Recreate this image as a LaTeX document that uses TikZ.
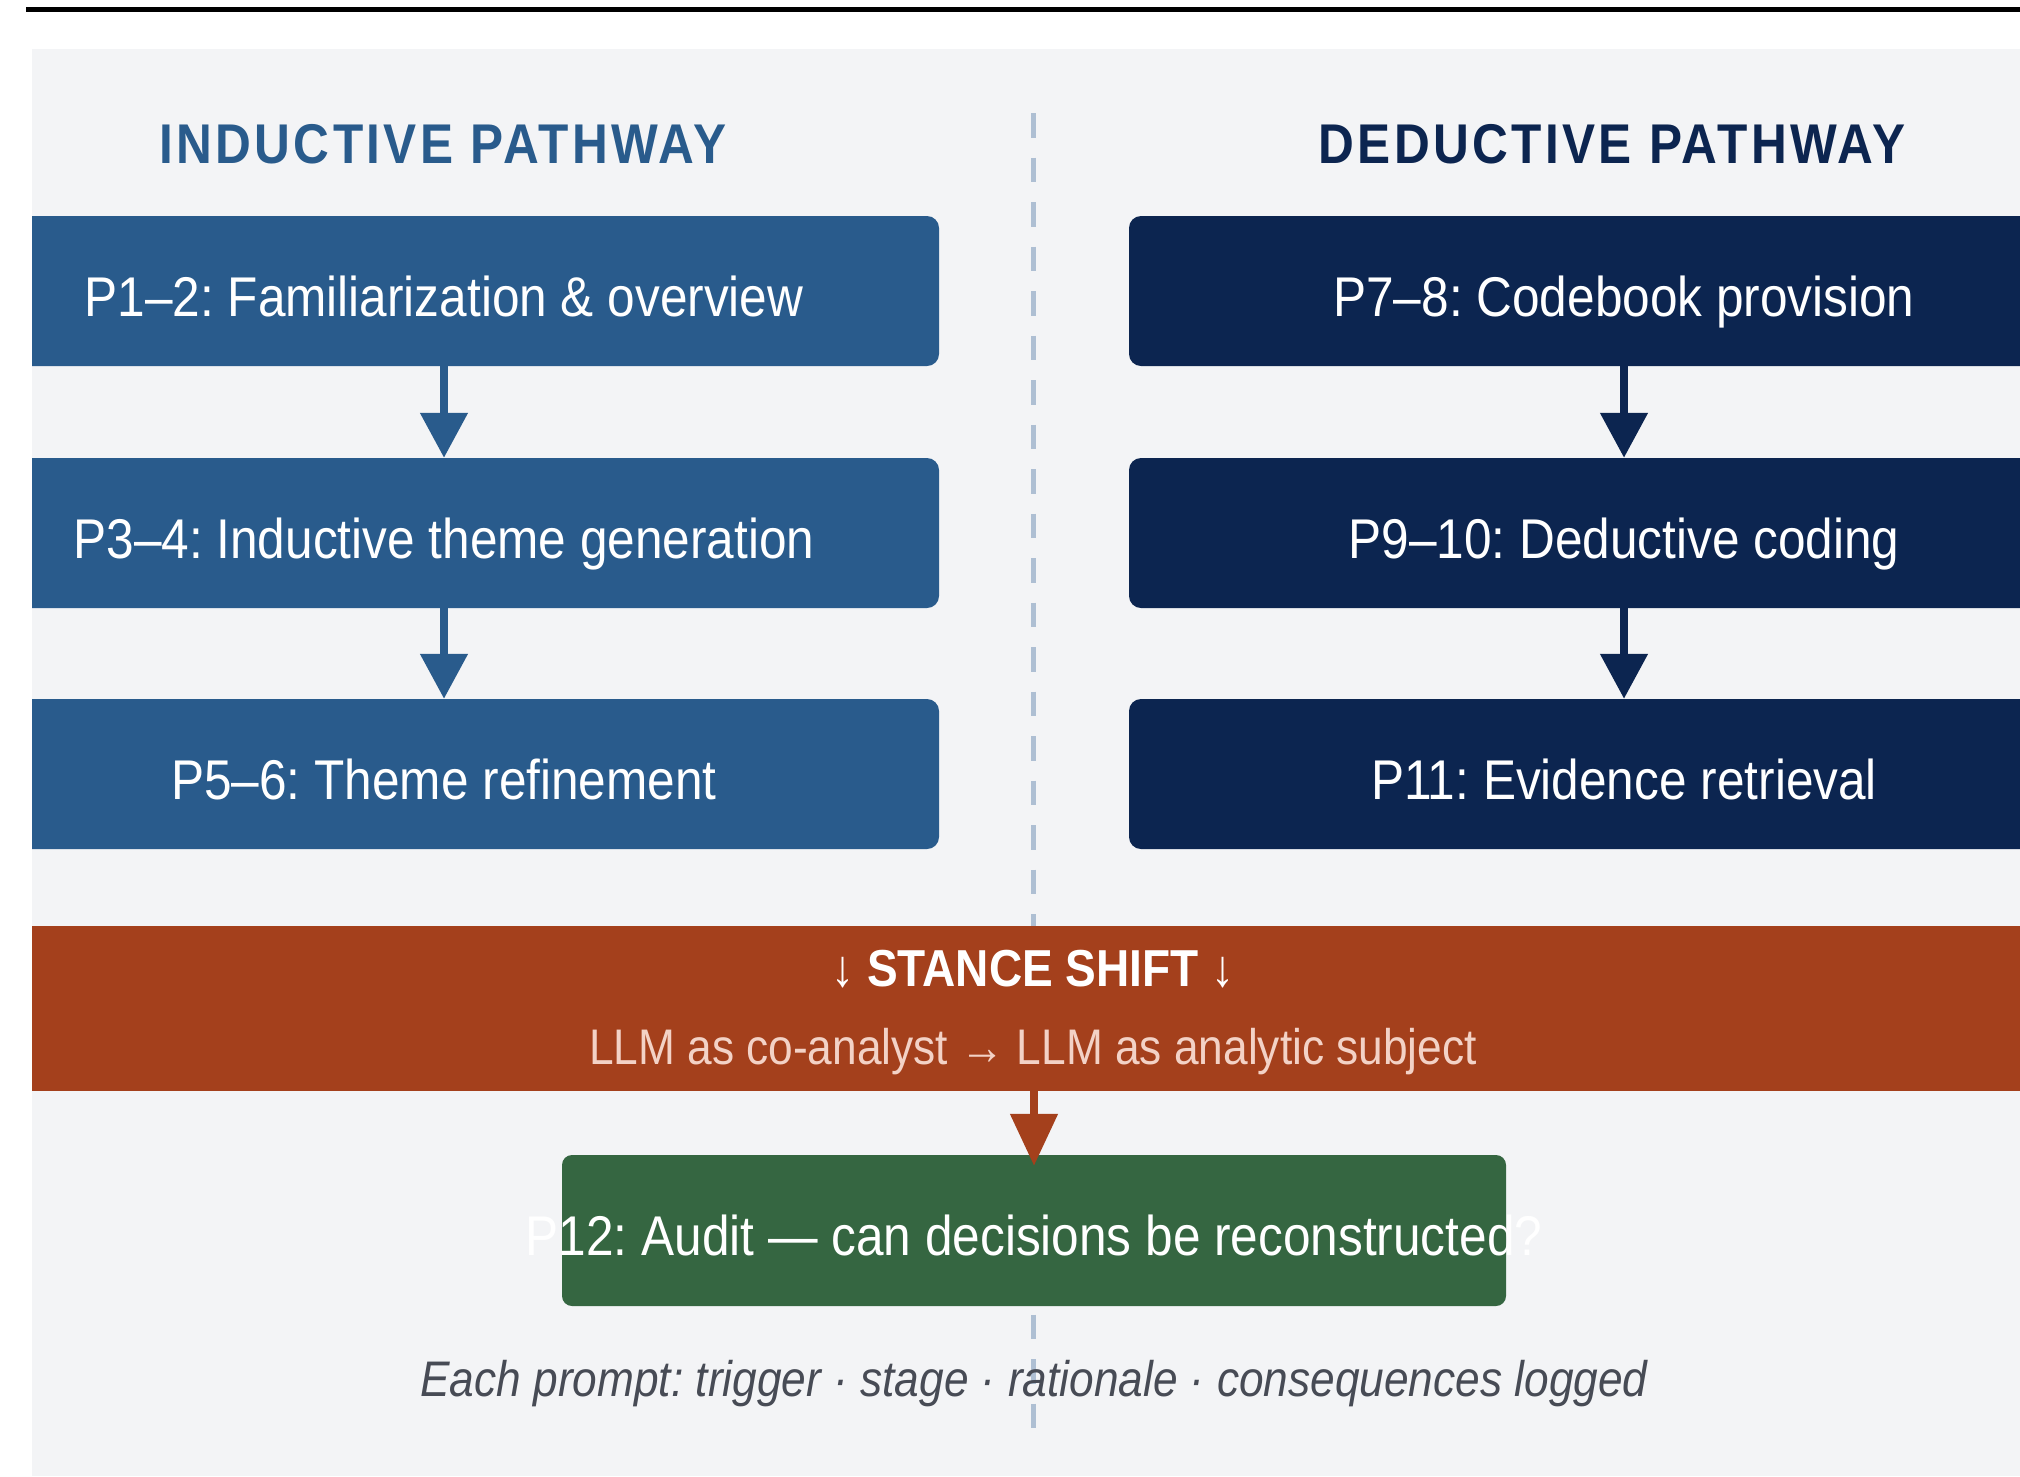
\documentclass[tikz,border=0pt]{standalone}
\usepackage{fontspec}
\setmainfont{Liberation Sans}[FakeStretch=0.885]
\usetikzlibrary{arrows.meta}

\definecolor{panelbg}{HTML}{F3F4F6}
\definecolor{indblue}{HTML}{295B8C}
\definecolor{dednavy}{HTML}{0C2550}
\definecolor{shiftrust}{HTML}{A4401C}
\definecolor{auditgreen}{HTML}{356641}
\definecolor{divider}{HTML}{AEBFD3}
\definecolor{subpink}{HTML}{F3D2C6}
\definecolor{notegray}{HTML}{474B55}

\tikzset{
  phasebox/.style={rectangle, rounded corners=12pt, minimum width=990pt,
    minimum height=150pt, inner sep=0pt, text=white,
    text height=50pt, text depth=0pt,
    font=\fontsize{56}{60}\selectfont},
  indbox/.style={phasebox, fill=indblue},
  dedbox/.style={phasebox, fill=dednavy},
  heading/.style={font=\fontsize{56}{60}\selectfont\bfseries\addfontfeature{LetterSpace=6}},
  flow/.style={line width=8pt, -{Triangle[width=46pt,length=45pt]}},
}

\begin{document}
\frenchspacing
\begin{tikzpicture}[x=1pt,y=-1pt]
\useasboundingbox (0,0) rectangle (2020,1476);
\fill[white] (0,0) rectangle (2020,1476);

% top rule
\draw[line width=5pt] (26,9) -- (2020,9);

\begin{scope}
\clip (32,49) rectangle (2020,1476);
\fill[panelbg] (32,49) rectangle (2020,1476);

% centre divider
\coordinate (divtop) at (1033,113);
\coordinate (divbot) at (1033,1428);
\draw[divider, line width=5pt, dash pattern=on 24.5pt off 20pt] (divtop) -- (divbot);

% headings
\node[heading, text=indblue] (indhead) at (443,144) {INDUCTIVE PATHWAY};
\node[heading, text=dednavy] (dedhead) at (1612,144) {DEDUCTIVE PATHWAY};

% inductive pathway
\node[indbox] (p12) at (444,291) {P1–2: Familiarization \& overview};
\node[indbox] (p34) at (444,533) {P3–4: Inductive theme generation};
\node[indbox] (p56) at (444,774) {P5–6: Theme refinement};
\draw[flow, indblue] (p12.south) -- (p34.north);
\draw[flow, indblue] (p34.south) -- (p56.north);

% deductive pathway
\node[dedbox] (p78) at (1624,291) {P7–8: Codebook provision};
\node[dedbox] (p910) at (1624,533) {P9–10: Deductive coding};
\node[dedbox] (p11) at (1624,774) {P11: Evidence retrieval};
\draw[flow, dednavy] (p78.south) -- (p910.north);
\draw[flow, dednavy] (p910.south) -- (p11.north);

% stance shift band
\node[rectangle, fill=shiftrust, minimum width=1988pt, minimum height=165pt,
  inner sep=0pt] (shift) at (1026,1008.5) {};
\node[text=white, font=\fontsize{52}{56}\selectfont\bfseries] (shifttitle)
  at (1033,969) {↓ STANCE SHIFT ↓};
\node[text=subpink, font=\fontsize{50}{54}\selectfont] (shiftsub)
  at (1033,1052) {LLM as co-analyst → LLM as analytic subject};

% audit
\node[rectangle, rounded corners=10pt, fill=auditgreen, minimum width=944pt,
  minimum height=151pt, inner sep=0pt] (audit) at (1034,1230.5) {};
\node[text=white, text height=50pt, text depth=0pt,
  font=\fontsize{56}{60}\selectfont] (audittext) at (audit.center)
  {P12: Audit — can decisions be reconstructed?};
\draw[line width=8pt, shiftrust, -{Triangle[width=46pt,length=52pt]},
  shorten >=-11pt] (shift.south -| audit.north) -- (audit.north);

% footnote
\node[text=notegray, font=\fontsize{50}{54}\selectfont\itshape] (note)
  at (1034,1384) {Each prompt: trigger · stage · rationale · consequences logged};
\end{scope}
\end{tikzpicture}
\end{document}
